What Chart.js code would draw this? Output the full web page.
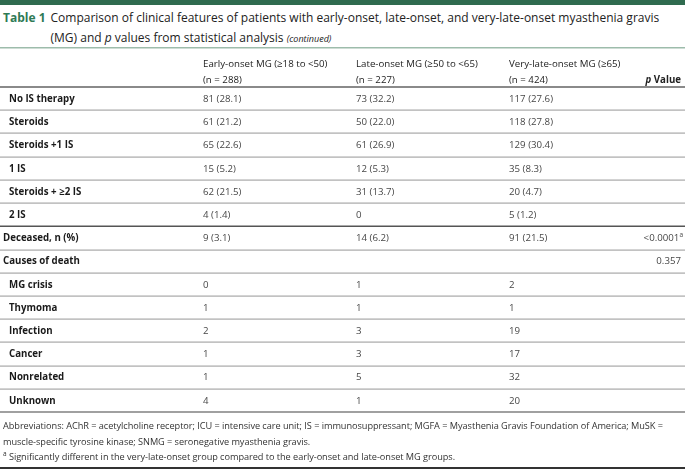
<!DOCTYPE html>
<html>
<head>
<meta charset="utf-8">
<script src="https://cdn.jsdelivr.net/npm/chart.js@4"></script>
<style>
  html, body { margin: 0; padding: 0; background: #fff; }
  #wrap { position: relative; width: 685px; height: 475px; overflow: hidden; font-family: "Open Sans", sans-serif; }
  #topbar { position: absolute; left: 0; top: 0; width: 685px; height: 5px; background: #2f6b4f; }
  #title { position: absolute; left: 3px; top: 8px; width: 680px; font-size: 12px; line-height: 20px; color: #222; display: flex; }
  #title b { color: #2e7a55; margin-right: 5px; white-space: nowrap; }
  #title i.small { font-size: 9px; }
  #myChart { position: absolute; left: 0; top: 0; }
  #notes { position: absolute; left: 3px; top: 418px; width: 682px; font-size: 9.2px; line-height: 15.5px; color: #333; letter-spacing: -0.05px; }
  #notes sup { font-size: 6.5px; line-height: 0; }
  #bottomline { position: absolute; left: 0; top: 467px; width: 685px; height: 2px; background: #333; }
</style>
</head>
<body>
<div id="wrap">
  <div id="topbar"></div>
  <div id="title"><b>Table 1</b><span>Comparison of clinical features of patients with early-onset, late-onset, and very-late-onset myasthenia gravis (MG) and <i>p</i> values from statistical analysis <i class="small">(continued)</i></span></div>
  <canvas id="myChart" width="685" height="475"></canvas>
  <div id="notes">Abbreviations: AChR = acetylcholine receptor; ICU = intensive care unit; IS = immunosuppressant; MGFA = Myasthenia Gravis Foundation of America; MuSK = muscle-specific tyrosine kinase; SNMG = seronegative myasthenia gravis.<br><sup>a</sup> Significantly different in the very-late-onset group compared to the early-onset and late-onset MG groups.</div>
  <div id="bottomline"></div>
</div>
<script>
const ctx = document.getElementById("myChart");

const columnas = ["Early-onset MG (≥18 to <50)|(n = 288)", "Late-onset MG (≥50 to <65)|(n = 227)", "Very-late-onset MG (≥65)|(n = 424)"];
const filas = ["No IS therapy", "Steroids", "Steroids +1 IS", "1 IS", "Steroids + ≥2 IS", "2 IS", "Deceased, n (%)", "Causes of death", "MG crisis", "Thymoma", "Infection", "Cancer", "Nonrelated", "Unknown"];
const subfila = [true, true, true, true, true, true, false, false, true, true, true, true, true, true];
const earlyOnset = ["81 (28.1)", "61 (21.2)", "65 (22.6)", "15 (5.2)", "62 (21.5)", "4 (1.4)", "9 (3.1)", "", "0", "1", "2", "1", "1", "4"];
const lateOnset = ["73 (32.2)", "50 (22.0)", "61 (26.9)", "12 (5.3)", "31 (13.7)", "0", "14 (6.2)", "", "1", "1", "3", "3", "5", "1"];
const veryLateOnset = ["117 (27.6)", "118 (27.8)", "129 (30.4)", "35 (8.3)", "20 (4.7)", "5 (1.2)", "91 (21.5)", "", "2", "1", "19", "17", "32", "20"];
const pValores = ["", "", "", "", "", "", "<0.0001", "0.357", "", "", "", "", "", ""];
const pNota = ["", "", "", "", "", "", "a", "", "", "", "", "", "", ""];

// x positions of the columns, in pixels of the linear x scale
const colX = [203, 356, 509];
const pX = 681;

const tablaPlugin = {
    id: "tabla",
    afterDraw(chart) {
        const c = chart.ctx;
        const x = chart.scales.x;
        const y = chart.scales.y;
        const area = chart.chartArea;
        const alto = y.getPixelForValue(1) - y.getPixelForValue(0);
        c.save();

        // header line on top
        c.fillStyle = "#9dbcab";
        c.fillRect(0, 47, chart.width, 1.5);

        // header texts
        c.textBaseline = "middle";
        c.font = "9.7px 'Open Sans'";
        c.fillStyle = "#222";
        columnas.forEach((txt, i) => {
            const partes = txt.split("|");
            c.textAlign = "left";
            c.fillText(partes[0], x.getPixelForValue(colX[i]), 64);
            c.fillText(partes[1], x.getPixelForValue(colX[i]), 80);
        });
        c.textAlign = "right";
        c.font = "bold 9.7px 'Open Sans'";
        const wv = c.measureText(" Value").width;
        c.fillText(" Value", x.getPixelForValue(pX), 80.5);
        c.font = "italic bold 9.7px 'Open Sans'";
        c.fillText("p", x.getPixelForValue(pX) - wv, 80.5);

        // lines
        c.fillStyle = "#8a8a8a";
        c.fillRect(0, area.top - 1, chart.width, 2);
        filas.forEach((f, i) => {
            if (i === 0) return;
            const yy = y.getPixelForValue(i) - alto / 2;
            c.fillStyle = i === 6 ? "#555" : "#a8a8a8";
            c.fillRect(0, Math.round(yy) - 0.5, chart.width, i === 6 ? 1.5 : 1.2);
        });
        c.fillStyle = "#a0a0a0";
        c.fillRect(0, area.bottom - 1, chart.width, 2);

        // cells
        filas.forEach((f, i) => {
            const yy = y.getPixelForValue(i) + 0.5;
            c.textAlign = "left";
            c.font = "bold 9.7px 'Open Sans'";
            c.fillStyle = "#1a1a1a";
            c.fillText(f, subfila[i] ? 9 : 3, yy);
            c.font = "9.7px 'Open Sans'";
            c.fillStyle = "#474747";
            [earlyOnset, lateOnset, veryLateOnset].forEach((serie, j) => {
                c.fillText(serie[i], x.getPixelForValue(colX[j]), yy);
            });
            if (pValores[i]) {
                c.textAlign = "right";
                let px = x.getPixelForValue(pX);
                if (pNota[i]) {
                    px += 2;
                    c.font = "6.5px 'Open Sans'";
                    c.fillText(pNota[i], px, yy - 3);
                    px -= c.measureText(pNota[i]).width;
                    c.font = "9.7px 'Open Sans'";
                }
                c.fillText(pValores[i], px, yy);
            }
        });
        c.restore();
    }
};

new Chart(ctx, {
    type: "scatter",
    data: { datasets: [] },
    options: {
        responsive: false,
        animation: false,
        layout: { padding: { top: 87, bottom: 63, left: 0, right: 0 } },
        plugins: { legend: { display: false }, tooltip: { enabled: false } },
        scales: {
            x: { type: "linear", min: 0, max: 685, display: false },
            y: { type: "category", labels: filas, offset: true, display: false }
        }
    },
    plugins: [tablaPlugin]
});
</script>
</body>
</html>
